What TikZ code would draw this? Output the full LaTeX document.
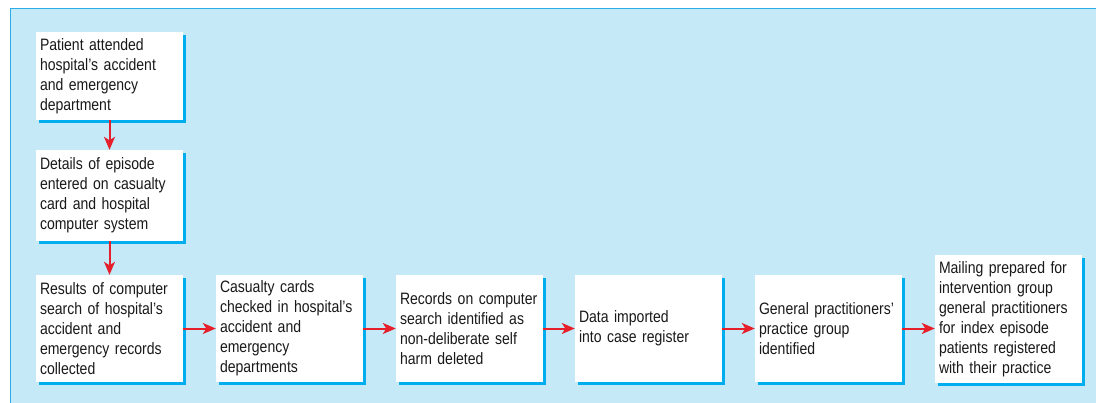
\documentclass[tikz,border=0pt]{standalone}
\usepackage{fontspec}
\setmainfont{Liberation Sans}[FakeStretch=0.85]
\usetikzlibrary{shadows,arrows.meta}
\hyphenpenalty=10000
\definecolor{bgblue}{HTML}{C6E9F8}
\definecolor{lineblue}{HTML}{2BACE6}
\definecolor{shadowblue}{HTML}{00AEEF}
\definecolor{arrred}{HTML}{E5202B}
\tikzset{
  box/.style={draw=none, fill=white, text width=139pt, align=left, inner xsep=4pt, inner ysep=6pt,
    font=\fontsize{16.5pt}{20pt}\selectfont, anchor=center, text=black!90,
    drop shadow={shadow xshift=3pt, shadow yshift=-3pt, fill=shadowblue, opacity=1}},
  flow/.style={draw=arrred, line width=2pt, -{Stealth[length=13pt,width=11pt,inset=3.5pt]}}
}
\begin{document}
\begin{tikzpicture}[x=1pt,y=1pt]
\useasboundingbox (0,0) rectangle (1096,-402);
\fill[bgblue] (10,-8) rectangle (1100,-410);
\draw[lineblue, line width=1.5pt] (10.5,-410) -- (10.5,-8.5) -- (1100,-8.5);
\node[box, minimum height=88pt] (b1) at (109.5,-76) {Patient attended\\hospital's accident\\and emergency\\department};
\node[box, minimum height=91pt] (b2) at (109.5,-195.5) {Details of episode\\entered on casualty\\card and hospital\\computer system};
\node[box, minimum height=107pt] (b3) at (109.5,-328.5) {Results of computer\\search of hospital's\\accident and\\emergency records\\collected};
\node[box, minimum height=107pt] (b4) at (289.5,-328.5) {Casualty cards\\checked in hospital's\\accident and\\emergency\\departments};
\node[box, minimum height=107pt] (b5) at (469.5,-328.5) {Records on computer\\search identified as\\non-deliberate self\\harm deleted};
\node[box, minimum height=107pt] (b6) at (648.5,-328.5) {Data imported\\into case register};
\node[box, minimum height=107pt] (b7) at (828.5,-328.5) {General practitioners'\\practice group\\identified};
\node[box, minimum height=128pt] (b8) at (1008.5,-319) {Mailing prepared for\\intervention group\\general practitioners\\for index episode\\patients registered\\with their practice};
\draw[flow] (b1.south) -- (b2.north);
\draw[flow] (b2.south) -- (b3.north);
\draw[flow] (b3.east) -- (b4.west);
\draw[flow] (b4.east) -- (b5.west);
\draw[flow] (b5.east) -- (b6.west);
\draw[flow] (b6.east) -- (b7.west);
\draw[flow] (b7.east) -- (b7.east -| b8.west);
\end{tikzpicture}
\end{document}
